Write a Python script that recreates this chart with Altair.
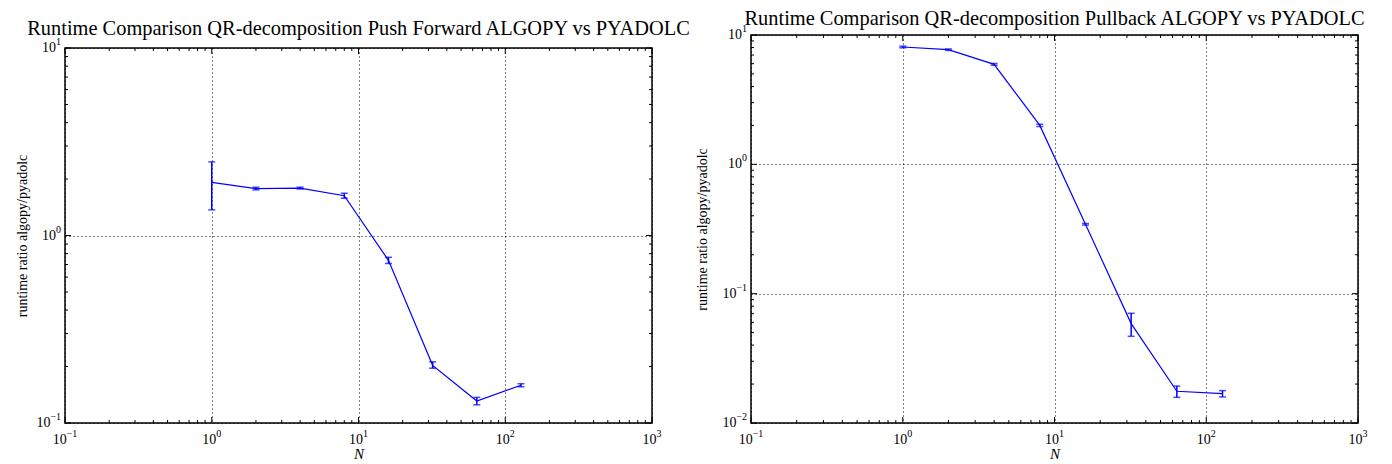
import altair as alt
import pandas as pd

# ---------------- data ----------------
N = [1, 2, 4, 8, 16, 32, 64, 128]

PF_MEAN = [1.92, 1.78, 1.79, 1.63, 0.737, 0.203, 0.131, 0.159]
PF_LO = [1.37, 1.75, 1.77, 1.58, 0.709, 0.196, 0.125, 0.156]
PF_HI = [2.47, 1.81, 1.81, 1.68, 0.765, 0.212, 0.137, 0.162]

PB_MEAN = [8.08, 7.70, 5.93, 2.00, 0.344, 0.0587, 0.0176, 0.0169]
PB_LO = [7.96, 7.60, 5.84, 1.96, 0.339, 0.0468, 0.0158, 0.0159]
PB_HI = [8.20, 7.80, 6.02, 2.04, 0.349, 0.0705, 0.0193, 0.0178]

TITLE_PF = "Runtime Comparison QR-decomposition Push Forward ALGOPY vs PYADOLC"
TITLE_PB = "Runtime Comparison QR-decomposition Pullback ALGOPY vs PYADOLC"
Y_TITLE = "runtime ratio algopy/pyadolc"
X_TITLE = "N"

X_MAJOR = [0.1, 1, 10, 100, 1000]
X_MINOR = [m * 10.0 ** k for k in range(-1, 3) for m in range(2, 10)]
PF_Y_MAJOR = [0.1, 1, 10]
PF_Y_MINOR = [m * 10.0 ** k for k in range(-1, 1) for m in range(2, 10)]
PB_Y_MAJOR = [0.01, 0.1, 1, 10]
PB_Y_MINOR = [m * 10.0 ** k for k in range(-2, 1) for m in range(2, 10)]

BLUE = "#0000ff"
FONT = "Liberation Serif"
EXP_EXPR = "replace('' + round(log(datum.v)/LN10), '-', '\u2212')"


def panel(title_text, mean, lo, hi, y_major, y_minor, y_domain, W, H,
          title_offset, ytitle_pad):
    df = pd.DataFrame({"N": N, "mean": mean, "lo": lo, "hi": hi})
    xs = alt.Scale(type="log", domain=[0.1, 1000], nice=False)
    ys = alt.Scale(type="log", domain=y_domain, nice=False)
    xaxis = alt.Axis(values=X_MAJOR, labels=False, grid=True,
                     gridDash=[1, 3], gridColor="black", gridOpacity=1, gridWidth=1,
                     ticks=False, domain=False, title=X_TITLE, titleFontStyle="italic",
                     titleFont=FONT, titleFontSize=15, titleFontWeight="normal",
                     titleColor="black", titlePadding=23)
    yaxis = alt.Axis(values=y_major, labels=False, grid=True,
                     gridDash=[1, 3], gridColor="black", gridOpacity=1, gridWidth=1,
                     ticks=False, domain=False, title=Y_TITLE,
                     titleFont=FONT, titleFontSize=14, titleFontWeight="normal",
                     titleColor="black", titlePadding=ytitle_pad)

    X = lambda f: alt.X(f, type="quantitative", scale=xs, axis=xaxis)
    Y = lambda f: alt.Y(f, type="quantitative", scale=ys, axis=yaxis)

    line = alt.Chart(df).mark_line(color=BLUE, strokeWidth=1.2).encode(x=X("N"), y=Y("mean"))
    bars = alt.Chart(df).mark_rule(color=BLUE, strokeWidth=1.5).encode(
        x=X("N"), y=Y("lo"), y2="hi")
    cap_lo = alt.Chart(df).mark_tick(color=BLUE, orient="horizontal", size=7,
                                     thickness=1.5).encode(x=X("N"), y=Y("lo"))
    cap_hi = alt.Chart(df).mark_tick(color=BLUE, orient="horizontal", size=7,
                                     thickness=1.5).encode(x=X("N"), y=Y("hi"))

    layers = [line, bars, cap_lo, cap_hi]

    # inward ticks on all four sides
    for vals, ln in ((X_MAJOR, 6), (X_MINOR, 3)):
        tdf = pd.DataFrame({"v": vals})
        layers.append(alt.Chart(tdf).mark_rule(color="black", strokeWidth=1).encode(
            x=X("v"), y=alt.value(H), y2=alt.value(H - ln)))
        layers.append(alt.Chart(tdf).mark_rule(color="black", strokeWidth=1).encode(
            x=X("v"), y=alt.value(0), y2=alt.value(ln)))
    for vals, ln in ((y_major, 6), (y_minor, 3)):
        tdf = pd.DataFrame({"v": vals})
        layers.append(alt.Chart(tdf).mark_rule(color="black", strokeWidth=1).encode(
            y=Y("v"), x=alt.value(0), x2=alt.value(ln)))
        layers.append(alt.Chart(tdf).mark_rule(color="black", strokeWidth=1).encode(
            y=Y("v"), x=alt.value(W), x2=alt.value(W - ln)))

    # tick labels: "10" with a raised exponent
    txt = dict(font=FONT, color="black")
    for filt, xdx, ydx in (("datum.v < 1", 1.7, -14.6), ("datum.v >= 1", 4.5, -9.0)):
        xdf = pd.DataFrame({"v": X_MAJOR})
        ydf = pd.DataFrame({"v": y_major})
        layers.append(alt.Chart(xdf).transform_filter(filt).mark_text(
            text="10", align="right", baseline="alphabetic", dx=xdx, fontSize=14, **txt
        ).encode(x=X("v"), y=alt.value(H + 21)))
        layers.append(alt.Chart(xdf).transform_filter(filt).transform_calculate(
            et=EXP_EXPR).mark_text(
            align="left", baseline="alphabetic", dx=xdx, dy=-7, fontSize=10, **txt
        ).encode(x=X("v"), y=alt.value(H + 21), text="et:N"))
        layers.append(alt.Chart(ydf).transform_filter(filt).mark_text(
            text="10", align="right", baseline="middle", dx=ydx, fontSize=14, **txt
        ).encode(y=Y("v"), x=alt.value(0)))
        layers.append(alt.Chart(ydf).transform_filter(filt).transform_calculate(
            et=EXP_EXPR).mark_text(
            align="left", baseline="middle", dx=ydx, dy=-6, fontSize=10, **txt
        ).encode(y=Y("v"), x=alt.value(0), text="et:N"))

    return alt.layer(*layers).properties(
        width=W, height=H,
        title=alt.TitleParams(title_text, font=FONT, fontSize=20.4, fontWeight="normal",
                              color="black", anchor="middle", offset=title_offset,
                              frame="group"),
    )


left = panel(TITLE_PF, PF_MEAN, PF_LO, PF_HI, PF_Y_MAJOR, PF_Y_MINOR, [0.1, 10],
             587, 375, -2, 36)
right = panel(TITLE_PB, PB_MEAN, PB_LO, PB_HI, PB_Y_MAJOR, PB_Y_MINOR, [0.01, 10],
              607, 388, -5.5, 42)

# empty strip above the left panel so that its frame starts lower than the right one
spacer = alt.Chart(pd.DataFrame({"s": [0]})).mark_point(opacity=0).encode(
    x=alt.value(0), y=alt.value(0)
).properties(width=587, height=13, view=alt.ViewBackground(stroke=None))

left_col = alt.vconcat(spacer, left, spacing=0, bounds="flush")

chart = alt.hconcat(left_col, right, spacing=2).properties(
    padding={"left": 6, "top": 0, "right": 0, "bottom": 0}
).configure_view(stroke="black", strokeWidth=1.5)

chart.save("out.html", embed_options={"renderer": "svg", "actions": False})
